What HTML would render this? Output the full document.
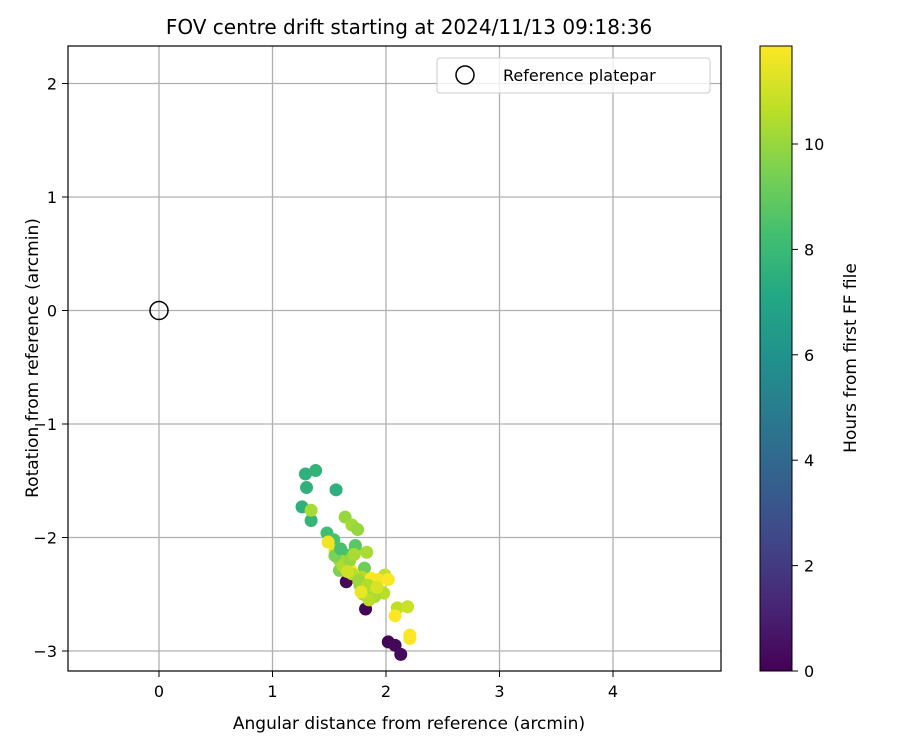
<!DOCTYPE html>
<html><head><meta charset="utf-8"><style>
body{margin:0;background:#fff;}
svg{display:block;font-family:"DejaVu Sans","Liberation Sans",sans-serif;}
</style></head><body>
<svg id="chart" width="900" height="750" viewBox="0 0 900 750">
<defs><linearGradient id="vir" x1="0" y1="1" x2="0" y2="0">
<stop offset="0" stop-color="#440154"/><stop offset="0.1" stop-color="#482475"/><stop offset="0.2" stop-color="#414487"/><stop offset="0.3" stop-color="#355f8d"/><stop offset="0.4" stop-color="#2a788e"/><stop offset="0.5" stop-color="#21918c"/><stop offset="0.6" stop-color="#22a884"/><stop offset="0.7" stop-color="#44bf70"/><stop offset="0.8" stop-color="#7ad151"/><stop offset="0.9" stop-color="#bddf26"/><stop offset="1" stop-color="#fde725"/></linearGradient></defs>
<text x="409" y="34" font-size="20" text-anchor="middle">FOV centre drift starting at 2024/11/13 09:18:36</text>
<g id="grid"></g>
<g id="points"></g>
<rect x="68" y="46" width="653" height="625" fill="none" stroke="#000" stroke-width="1.2"/>
<g id="ticks" font-size="16"></g>
<text x="409" y="729" font-size="17" text-anchor="middle">Angular distance from reference (arcmin)</text>
<text x="38" y="358" font-size="17" text-anchor="middle" transform="rotate(-90 38 358)">Rotation from reference (arcmin)</text>
<g>
<rect x="437" y="58" width="273" height="35" rx="3" fill="#fff" fill-opacity="0.8" stroke="#ccc"/>
<circle cx="465" cy="75" r="9" fill="none" stroke="#000" stroke-width="1.5"/>
<text x="503" y="81" font-size="16">Reference platepar</text>
</g>
<rect x="760" y="46" width="32" height="625" fill="url(#vir)" stroke="#000" stroke-width="1"/>
<g id="cbticks" font-size="16"></g>
<text x="856" y="358" font-size="17" text-anchor="middle" transform="rotate(-90 856 358)">Hours from first FF file</text>
</svg>
<script>
const xTicks=[0,1,2,3,4];
const yTicks=[-3,-2,-1,0,1,2];
const cbTicks=[0,2,4,6,8,10];
const driftX=[2.02,2.08,2.13,1.82,1.65,1.29,1.38,1.3,1.56,1.26,1.34,1.34,1.64,1.70,1.75,1.73,1.83,1.48,1.54,1.49,1.55,1.66,1.67,1.70,1.81,1.79,1.99,1.87,1.93,2.02,1.88,1.94,1.98,1.90,2.10,2.19,2.08,2.21,2.21,1.64,1.59,1.55,1.77,1.73,1.59,1.62,1.68,1.72,1.60,1.70,1.76,1.84,1.80,1.66,1.85,1.92,1.78];
const driftY=[-2.92,-2.95,-3.03,-2.63,-2.39,-1.44,-1.41,-1.56,-1.58,-1.73,-1.85,-1.76,-1.82,-1.89,-1.93,-2.09,-2.13,-1.96,-2.02,-2.04,-2.12,-2.18,-2.24,-2.30,-2.27,-2.35,-2.33,-2.36,-2.37,-2.37,-2.46,-2.46,-2.49,-2.52,-2.62,-2.61,-2.69,-2.89,-2.86,-2.15,-2.20,-2.16,-2.42,-2.07,-2.29,-2.25,-2.20,-2.15,-2.10,-2.32,-2.38,-2.42,-2.50,-2.30,-2.55,-2.44,-2.48];
const hours=[0.1,0.2,0.3,0.1,0.2,7.6,7.7,7.6,7.5,7.5,7.8,10.3,10,10.2,10,10.1,10.3,8.2,8.4,11.6,11.5,9,10.5,11.8,9.2,10.5,10.8,11.9,11.7,11.8,11.6,11.7,10.6,10.3,10.7,10.9,11.9,11.8,11.9,8.6,10.2,9.5,9.8,8.8,9.5,10.4,10.0,10.3,8.4,10.6,10.1,10.5,10.2,11.0,10.6,11.2,11.5];
const NS='http://www.w3.org/2000/svg';
const sx=v=>159+v*113.5, sy=v=>310.5-v*113.5, sc=h=>671-h*52.7;
const stops=[[0,[68,1,84]],[0.1,[72,36,117]],[0.2,[65,68,135]],[0.3,[53,95,141]],[0.4,[42,120,142]],[0.5,[33,145,140]],[0.6,[34,168,132]],[0.7,[68,191,112]],[0.8,[122,209,81]],[0.9,[189,223,38]],[1,[253,231,37]]];
function vir(h){let t=Math.max(0,Math.min(1,h/11.86));for(let i=1;i<stops.length;i++){if(t<=stops[i][0]){const a=stops[i-1],b=stops[i],f=(t-a[0])/(b[0]-a[0]);return 'rgb('+a[1].map((c,k)=>Math.round(c+(b[1][k]-c)*f)).join(',')+')';}}return 'rgb(253,231,37)';}
function mk(tag,attrs,parent,text){const e=document.createElementNS(NS,tag);for(const k in attrs)e.setAttribute(k,attrs[k]);if(text!==undefined)e.textContent=text;document.getElementById(parent).appendChild(e);return e;}
xTicks.forEach(v=>{
const g=mk('line',{x1:sx(v),x2:sx(v),y1:46,y2:671,stroke:'#b0b0b0','stroke-width':1.3},'grid');


mk('line',{x1:sx(v),x2:sx(v),y1:671,y2:677,stroke:'#000'},'ticks');
const t=mk('text',{x:sx(v),y:697,'text-anchor':'middle'},'ticks',String(v));


});
yTicks.forEach(v=>{
const g=mk('line',{x1:68,x2:721,y1:sy(v),y2:sy(v),stroke:'#b0b0b0','stroke-width':1.3},'grid');


mk('line',{x1:62,x2:68,y1:sy(v),y2:sy(v),stroke:'#000'},'ticks');
const t=mk('text',{x:57,y:sy(v)+6,'text-anchor':'end'},'ticks',v<0?'\u2212'+Math.abs(v):String(v));


});
cbTicks.forEach(v=>{
mk('line',{x1:792,x2:798,y1:sc(v),y2:sc(v),stroke:'#000'},'cbticks');
const t=mk('text',{x:804,y:sc(v)+6},'cbticks',String(v));


});
const ref=mk('circle',{cx:sx(0),cy:sy(0),r:9,fill:'none',stroke:'#000','stroke-width':1.5},'points');


driftX.forEach((x,i)=>{
const c=mk('circle',{cx:sx(x),cy:sy(driftY[i]),r:6.5,fill:vir(hours[i])},'points');


});
</script>
</body></html>
